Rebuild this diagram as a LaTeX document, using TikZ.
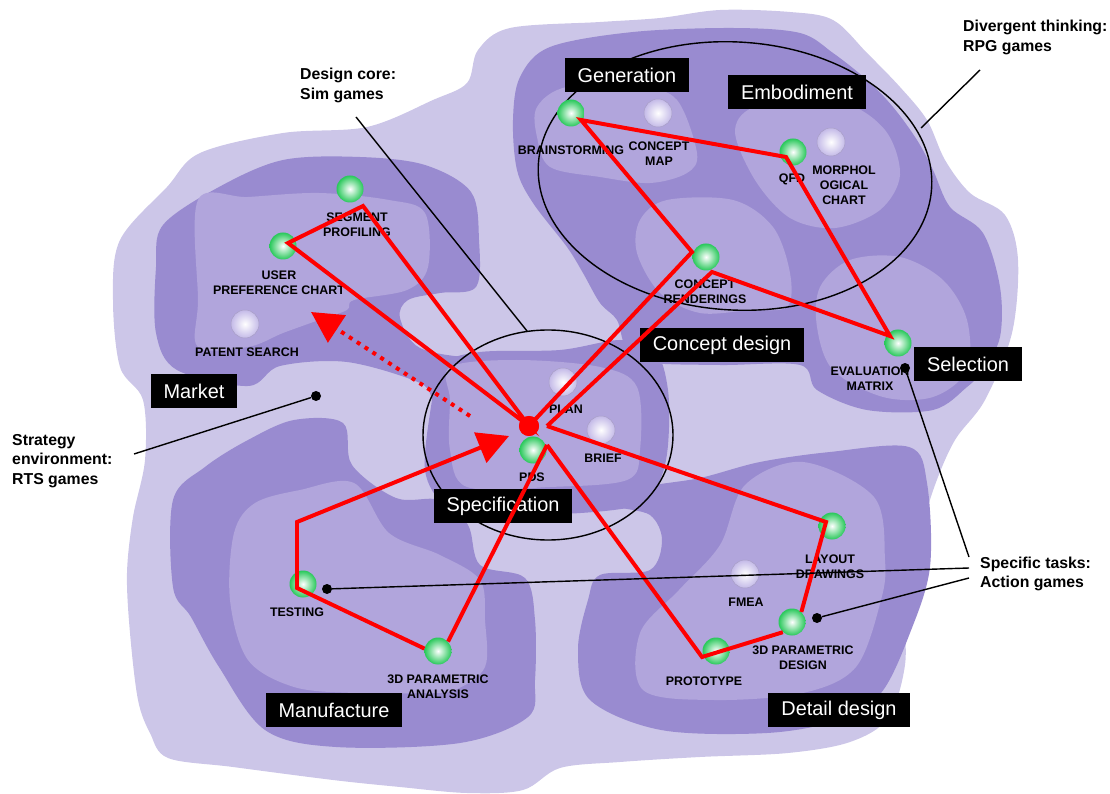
\documentclass[tikz,border=0pt]{standalone}
\usepackage{fontspec}
\setmainfont{Liberation Sans}
\usetikzlibrary{arrows.meta}
\definecolor{HazeLilac}{RGB}{204,198,232}
\definecolor{DeepLilac}{RGB}{153,139,208}
\definecolor{MidLilac}{RGB}{177,165,220}
\definecolor{TaskGreen}{RGB}{40,200,90}
\definecolor{IdleLilac}{RGB}{196,186,232}
\definecolor{RouteRed}{RGB}{255,0,0}
\tikzset{
  blob/.style={smooth cycle,tension=0.55},
  task/.style={circle,inner sep=0pt,minimum size=0.81cm,shading=radial,inner color=white,outer color=TaskGreen},
  idle/.style={circle,inner sep=0pt,minimum size=0.84cm,shading=radial,inner color=white,outer color=IdleLilac,draw=IdleLilac!85!black,line width=0.4pt},
  phase/.style={fill=black,text=white,font=\fontsize{17}{19}\selectfont,inner xsep=0.39cm,inner ysep=0pt,minimum height=1.02cm},
  lbl/.style={font=\bfseries\fontsize{10.6}{12.8}\selectfont,align=center,inner sep=0pt},
  note/.style={font=\bfseries\fontsize{13.5}{16.6}\selectfont,align=left,anchor=west,inner sep=0pt},
  route/.style={draw=RouteRed,line width=3.4pt,line join=miter},
  tie/.style={draw=black,line width=1.2pt},
  pin/.style={circle,fill=black,inner sep=0pt,minimum size=0.3cm},
  bigtip/.style={-{Triangle[length=0.93cm,width=0.96cm]}},
}
\begin{document}
\begin{tikzpicture}[x=0.03cm,y=-0.03cm]
\useasboundingbox (0,0) rectangle (1110,794);

% backdrop of the game world
\fill[HazeLilac] plot[blob] coordinates {(167,187) (200,153) (283,133) (367,127) (433,100) (467,83) (478,50) (510,28) (600,22) (660,18) (720,10) (790,12) (833,20) (867,53) (900,87) (927,120) (945,160) (970,193) (1005,215) (1018,260) (1012,333) (985,400) (955,440) (935,485) (920,535) (905,600) (905,665) (888,718) (850,742) (788,753) (700,757) (620,762) (560,768) (523,790) (467,793) (400,787) (333,780) (233,767) (168,758) (150,733) (138,700) (130,633) (127,573) (133,517) (145,460) (143,400) (120,367) (113,300) (120,240)};
\fill[DeepLilac] plot[blob] coordinates {(156,267) (163,225) (219,187) (283,160) (360,157) (425,165) (471,192) (479,240) (476,287) (440,293) (408,300) (400,318) (420,348) (480,358) (545,352) (560,385) (480,410) (437,403) (420,383) (347,362) (280,366) (248,386) (177,370) (156,333)};
\fill[DeepLilac] plot[blob] coordinates {(432,400) (440,365) (480,352) (560,350) (620,340) (655,350) (668,390) (668,445) (660,480) (640,505) (560,514) (480,510) (445,505) (425,470)};
\fill[DeepLilac] plot[blob] coordinates {(983,370) (967,387) (933,410) (867,410) (817,390) (800,365) (720,365) (645,362) (625,345) (617,320) (600,303) (583,273) (567,247) (533,203) (517,170) (513,120) (520,77) (550,47) (633,32) (733,28) (800,33) (833,53) (867,80) (893,107) (917,140) (933,170) (950,207) (983,233) (1000,287) (1000,337)};
\fill[DeepLilac] plot[blob] coordinates {(173,500) (205,467) (248,440) (294,420) (343,423) (352,465) (396,498) (440,500) (468,525) (480,565) (525,578) (535,620) (535,680) (528,717) (460,743) (336,747) (265,730) (219,667) (191,617) (173,587)};
\fill[DeepLilac] plot[blob] coordinates {(588,600) (600,575) (650,570) (662,540) (650,515) (615,505) (640,488) (700,478) (760,462) (830,452) (909,447) (927,483) (930,567) (910,633) (881,693) (838,720) (767,733) (661,730) (590,700) (578,650)};
\fill[MidLilac] plot[blob] coordinates {(198,200) (248,197) (319,193) (389,200) (425,213) (428,267) (407,290) (354,300) (347,310) (319,320) (283,333) (248,347) (198,347) (198,300)};
\fill[MidLilac] plot[blob] coordinates {(450,367) (517,360) (600,367) (637,387) (640,450) (627,480) (550,487) (467,487) (450,450) (450,400)};
\fill[MidLilac] plot[blob] coordinates {(537,107) (567,87) (640,87) (677,100) (697,153) (687,173) (650,183) (600,177) (550,167) (537,137)};
\fill[MidLilac] plot[blob] coordinates {(735,130) (760,105) (840,102) (885,130) (900,175) (880,210) (835,228) (790,218) (755,180)};
\fill[MidLilac] plot[blob] coordinates {(640,220) (667,200) (733,200) (773,227) (790,273) (787,307) (750,310) (700,313) (660,293) (637,253)};
\fill[MidLilac] plot[blob] coordinates {(820,287) (850,260) (900,257) (943,280) (967,320) (967,370) (933,397) (883,397) (833,370) (817,327)};
\fill[MidLilac] plot[blob] coordinates {(234,533) (255,503) (300,490) (354,483) (389,533) (440,555) (480,580) (485,620) (485,667) (455,690) (425,693) (354,693) (294,687) (248,660) (230,600)};
\fill[MidLilac] plot[blob] coordinates {(640,633) (679,590) (720,545) (745,485) (803,462) (874,497) (885,560) (881,600) (856,667) (803,693) (714,700) (643,690)};

% phase rings
\draw[tie,rotate around={-3.5:(735,176)}] (735,176) ellipse [x radius=197,y radius=134];
\draw[tie] (548,435) ellipse [x radius=125,y radius=105];

% idle tasks
\node[idle] (mapIdle) at (658,113) {};
\node[idle] (morphIdle) at (831,142) {};
\node[idle] (patentIdle) at (245,324) {};
\node[idle] (planIdle) at (563,382) {};
\node[idle] (briefIdle) at (601,430) {};
\node[idle] (fmeaIdle) at (745,574) {};

% visited tasks
\node[task] (seg) at (350,189) {};
\node[task] (user) at (283,246) {};
\node[task] (brain) at (571,113) {};
\node[task] (qfd) at (793,152) {};
\node[task] (rend) at (706,257) {};
\node[task] (eval) at (898,343) {};
\node[task] (pds) at (533,450) {};
\node[task] (lay) at (832,526) {};
\node[task] (dsg) at (792,622) {};
\node[task] (proto) at (716,651) {};
\node[task] (test) at (303,584) {};
\node[task] (ana) at (438,651) {};

% task names
\node[lbl] (segLbl) at (357,225) {SEGMENT\\PROFILING};
\node[lbl] (userLbl) at (279,283) {USER\\PREFERENCE CHART};
\node[lbl] (patentLbl) at (247,352) {PATENT SEARCH};
\node[lbl] (brainLbl) at (571,150) {BRAINSTORMING};
\node[lbl] (mapLbl) at (659,154) {CONCEPT\\MAP};
\node[lbl] (qfdLbl) at (792,179) {QFD};
\node[lbl] (morphLbl) at (844,185) {MORPHOL\\OGICAL\\CHART};
\node[lbl] (rendLbl) at (705,292) {CONCEPT\\RENDERINGS};
\node[lbl] (evalLbl) at (870,379) {EVALUATION\\MATRIX};
\node[lbl] (planLbl) at (566,409) {PLAN};
\node[lbl] (briefLbl) at (603,458) {BRIEF};
\node[lbl] (pdsLbl) at (532,477) {PDS};
\node[lbl] (layLbl) at (830,567) {LAYOUT\\DRAWINGS};
\node[lbl] (fmeaLbl) at (746,602) {FMEA};
\node[lbl] (dsgLbl) at (803,658) {3D PARAMETRIC\\DESIGN};
\node[lbl] (protoLbl) at (704,681) {PROTOTYPE};
\node[lbl] (testLbl) at (297,612) {TESTING};
\node[lbl] (anaLbl) at (438,687) {3D PARAMETRIC\\ANALYSIS};

% phases
\node[phase] (market) at (194,391) {Market};
\node[phase] (gen) at (627,75) {Generation};
\node[phase] (emb) at (797,92) {Embodiment};
\node[phase] (concept) at (722,345) {Concept design};
\node[phase] (select) at (968,364) {Selection};
\node[phase] (spec) at (503,506) {Specification};
\node[phase] (manuf) at (334,710) {Manufacture};
\node[phase] (detail) at (839,710) {Detail design};

% design route
\coordinate (u1) at (288,243);
\coordinate (u2) at (363,206);
\coordinate (r1) at (692,252);
\coordinate (b1) at (581,120);
\coordinate (q1) at (786,157);
\coordinate (e1) at (890,336);
\coordinate (r2) at (712,272);
\coordinate (cA) at (547,426);
\coordinate (cB) at (547,445);
\coordinate (l1) at (826,522);
\coordinate (p1) at (702,657);
\coordinate (t1) at (297,588);
\coordinate (t2) at (297,522);
\coordinate (tipS) at (509,436);
\coordinate (dS) at (470,416);
\coordinate (tipM) at (311,312);
\node[circle,fill=RouteRed,inner sep=0pt,minimum size=0.6cm] (hub) at (529,426) {};
\draw[route] (hub.center) -- (u1) -- (u2) -- cycle;
\draw[route] (hub.center) -- (r1) -- (b1) -- (q1) -- (e1) -- (r2) -- (cA);
\draw[route] (cA) -- (l1) -- (dsg.47);
\draw[route] (dsg.228) -- (p1) -- (cB);
\draw[route] (cB) -- (ana.43);
\draw[route,bigtip] (ana.170) -- (t1) -- (t2) -- (tipS);
\draw[route,dash pattern=on 3.4pt off 4.6pt,line cap=butt,bigtip] (dS) -- (tipM);
\node[circle,fill=RouteRed,inner sep=0pt,minimum size=0.6cm] at (hub) {};

% game genres
\node[note] (coreNote) at (300,85.5) {Design core:\\Sim games};
\node[note] (divNote) at (963,37.5) {Divergent thinking:\\RPG games};
\node[note] (stratNote) at (12,461) {Strategy\\environment:\\RTS games};
\node[note] (taskNote) at (980,574) {Specific tasks:\\Action games};
\coordinate (coreA) at (356,117);
\coordinate (coreB) at (527,331);
\coordinate (divA) at (980,70);
\coordinate (divB) at (921,128);
\coordinate (stratA) at (134,454);
\coordinate (spA1) at (969,557);
\coordinate (spA2) at (969,568);
\coordinate (spA3) at (969,578);
\node[pin] (pinS) at (316,396) {};
\node[pin] (pinE) at (905,368) {};
\node[pin] (pinT) at (327,589) {};
\node[pin] (pinD) at (817,618) {};
\draw[tie] (coreA) -- (coreB);
\draw[tie] (divA) -- (divB);
\draw[tie] (stratA) -- (pinS);
\draw[tie] (spA1) -- (pinE);
\draw[tie] (spA2) -- (pinT);
\draw[tie] (spA3) -- (pinD);
\end{tikzpicture}
\end{document}
